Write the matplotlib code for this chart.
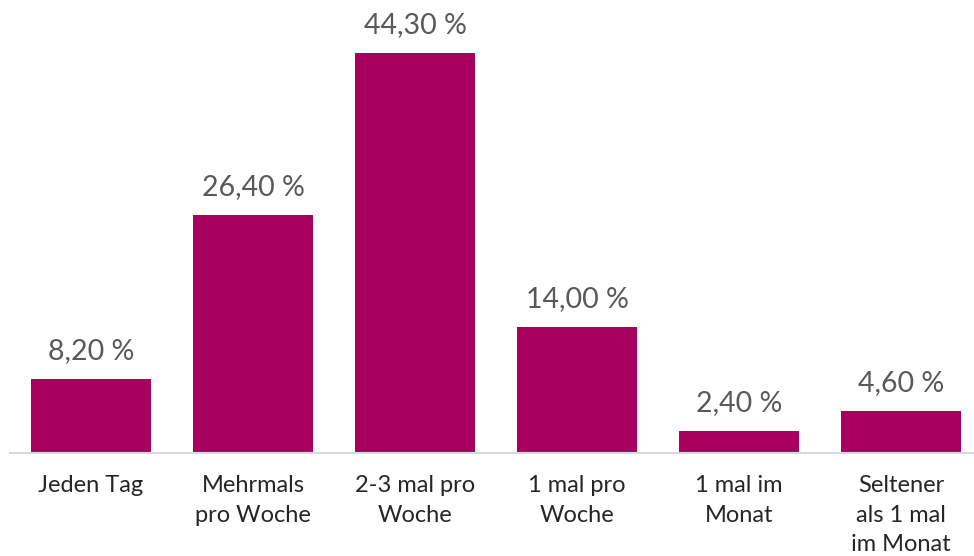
import matplotlib
matplotlib.use("Agg")
import matplotlib.pyplot as plt

categories = ["Jeden Tag", "Mehrmals\npro Woche", "2-3 mal pro\nWoche", "1 mal pro\nWoche", "1 mal im\nMonat", "Seltener\nals 1 mal\nim Monat"]
values = [8.2, 26.4, 44.3, 14.0, 2.4, 4.6]
value_labels = ["8,20 %", "26,40 %", "44,30 %", "14,00 %", "2,40 %", "4,60 %"]

plt.rcParams['font.family'] = ['Lato', 'DejaVu Sans']

fig = plt.figure(figsize=(9.74, 5.56), dpi=100)
ax_h = 453 / 556
ax = fig.add_axes([10 / 974, (556 - 453) / 556, 972 / 974, ax_h])
ax.set_xlim(-0.5, 5.5)
ymax = 44.3 * 453 / 400
ax.set_ylim(0, ymax)

x = list(range(len(categories)))
bars = ax.bar(x, values, width=0.74, color="#A8005F")

for xi, v, lab in zip(x, values, value_labels):
    ax.annotate(lab, (xi, v), xytext=(0, 20), textcoords="offset pixels",
                ha="center", va="baseline", fontsize=20.5, color="#595959")

ax.set_xticks(x)
ax.set_xticklabels(categories, fontsize=17, color="#262626", linespacing=1.5, va="top")
ax.tick_params(axis="x", length=0, pad=16)
ax.set_yticks([])
for s in ["top", "right", "left"]:
    ax.spines[s].set_visible(False)
ax.spines["bottom"].set_color("#D9D9D9")
ax.spines["bottom"].set_linewidth(1.5)

fig.savefig("out.png", dpi=100)
